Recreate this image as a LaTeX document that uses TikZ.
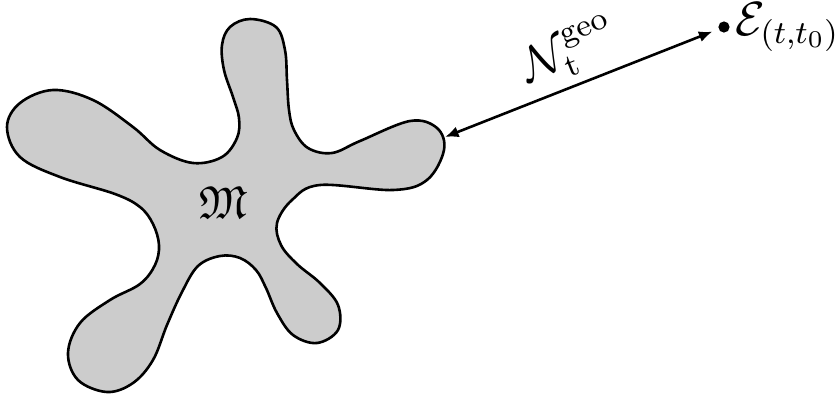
\documentclass[tikz,border=0pt]{standalone}
\usepackage{amssymb}
\usetikzlibrary{arrows.meta}
\begin{document}
\begin{tikzpicture}[x=0.25pt,y=-0.25pt,font=\fontsize{11.5}{13}\selectfont,
  blob/.style={draw=black,line width=0.65pt,fill=black!20},
  dotnode/.style={circle,fill=black,inner sep=0pt,minimum size=2.8pt},
  link/.style={{Latex[length=3.4pt,width=2.8pt]}-{Latex[length=3.4pt,width=2.8pt]},line width=0.65pt}]
\useasboundingbox (0,0) rectangle (839,397);
\draw[blob] plot[smooth cycle,tension=0.6] coordinates {
(250,19) (276,27) (285,50) (287,80) (289,110) (294,130) (308,148) (332,153)
(360,141) (410,121) (437,128) (444,150) (427,180) (393,190) (320,185)
(292,200) (277,223) (281,245) (297,264) (320,283) (338,305) (338,330) (317,343)
(293,335) (277,313) (266,288) (256,270) (240,258) (220,256) (198,266) (182,292)
(167,325) (153,360) (133,383) (107,392) (78,380) (68,353) (80,323)
(110,300) (140,284) (155,265) (159,245) (153,224) (140,207) (115,194) (60,177)
(20,157) (7,127) (20,103) (53,90) (93,100) (133,127) (160,150) (193,163)
(222,157) (237,138) (239,118) (233,97) (224,70) (222,45) (230,27)};
\node (m) at (223,203) {$\mathfrak{M}$};
\coordinate (a) at (445,137);
\node[dotnode] (e) at (724,27) {};
\node[anchor=west,inner sep=1pt] (el) at (e.east) {$\mathcal{E}_{(t,t_0)}$};
\draw[link,shorten >=1.5pt] (a) -- node[midway,sloped,above,inner sep=2pt] (n) {$\mathcal{N}_{\mathrm{t}}^{\mathrm{geo}}$} (e);
\end{tikzpicture}
\end{document}
